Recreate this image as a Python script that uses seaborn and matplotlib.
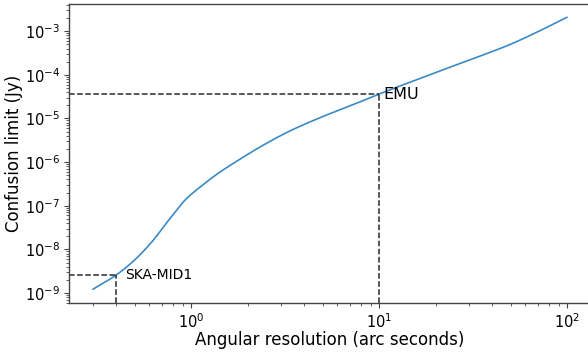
import matplotlib
matplotlib.use("Agg")
import matplotlib.pyplot as plt
import seaborn as sns
import pandas as pd
import numpy as np

# Data (angular resolution in arcsec, confusion limit in Jy)
resolution = [0.30, 0.40, 0.50, 0.62, 0.76, 0.93, 1.16, 1.4, 1.82, 2.4, 3.3,
              5.0, 7.5, 10.0, 15.0, 22.0, 33.0, 50.0, 70.0, 100.0]
confusion = [1.22e-9, 2.60e-9, 5.69e-9, 1.51e-8, 4.68e-8, 1.36e-7, 3.06e-7,
             5.62e-7, 1.17e-6, 2.40e-6, 5.01e-6, 1.10e-5, 2.19e-5, 3.63e-5,
             7.08e-5, 1.32e-4, 2.51e-4, 5.01e-4, 9.77e-4, 2.09e-3]

survey_names = ["SKA-MID1", "EMU"]
survey_res = [0.4, 10.0]
survey_limit = [2.6e-9, 3.6e-5]

yticks = [1e-9, 1e-8, 1e-7, 1e-6, 1e-5, 1e-4, 1e-3]
xticks = [1, 10, 100]


def pchip(x, y, xn):
    """Monotone cubic (PCHIP) interpolation used only to draw a smooth line."""
    x = np.asarray(x, float)
    y = np.asarray(y, float)
    h = np.diff(x)
    d = np.diff(y) / h
    m = np.zeros_like(y)
    for i in range(1, len(y) - 1):
        if d[i - 1] * d[i] > 0:
            w1 = 2 * h[i] + h[i - 1]
            w2 = h[i] + 2 * h[i - 1]
            m[i] = (w1 + w2) / (w1 / d[i - 1] + w2 / d[i])
    m[0] = d[0]
    m[-1] = d[-1]
    idx = np.clip(np.searchsorted(x, xn) - 1, 0, len(x) - 2)
    t = (xn - x[idx]) / h[idx]
    h00 = 2 * t**3 - 3 * t**2 + 1
    h10 = t**3 - 2 * t**2 + t
    h01 = -2 * t**3 + 3 * t**2
    h11 = t**3 - t**2
    return (h00 * y[idx] + h10 * h[idx] * m[idx] + h01 * y[idx + 1]
            + h11 * h[idx] * m[idx + 1])


lx = np.log10(resolution)
ly = np.log10(confusion)
sx = np.linspace(lx.min(), lx.max(), 500)
sy = pchip(lx, ly, sx)
smooth = pd.DataFrame({"res": 10 ** sx, "lim": 10 ** sy})

sns.set_style("ticks")
plt.rcParams["font.family"] = ["DejaVu Sans"]

fig = plt.figure(figsize=(5.88, 3.52), dpi=100)
ax = fig.add_axes([69 / 588, 49 / 352, 522 / 588, 299 / 352])

sns.lineplot(data=smooth, x="res", y="lim", ax=ax, color="#3a8ac6", lw=1.2)
ax.set_xscale("log")
ax.set_yscale("log")
ax.set_xticks(xticks)
ax.set_yticks(yticks)
ax.set_xlim(0.224, 134)
ax.set_ylim(5.9e-10, 4.2e-3)

xmin = ax.get_xlim()[0]
ymin = ax.get_ylim()[0]
for name, xr, yl in zip(survey_names, survey_res, survey_limit):
    ax.plot([xmin, xr], [yl, yl], ls="--", color="#2a2a2a", lw=1.1)
    ax.plot([xr, xr], [ymin, yl], ls="--", color="#2a2a2a", lw=1.1)
ax.text(survey_res[0] * 1.12, survey_limit[0], survey_names[0], fontsize=10,
        va="center", ha="left", color="black")
ax.text(survey_res[1] * 1.05, survey_limit[1], survey_names[1], fontsize=11.5,
        va="center", ha="left", color="black")

ax.set_xlabel("Angular resolution (arc seconds)", fontsize=12, labelpad=0.5,
              color="black")
ax.set_ylabel("Confusion limit (Jy)", fontsize=12, labelpad=1, color="black")
ax.tick_params(axis="both", which="major", labelsize=10.5, length=3.5, pad=3,
               labelcolor="black", color="#444444")
ax.tick_params(axis="both", which="minor", length=2, color="#444444")
for s in ax.spines.values():
    s.set_color("#444444")
    s.set_linewidth(1.0)

fig.savefig("out.png", dpi=100)
